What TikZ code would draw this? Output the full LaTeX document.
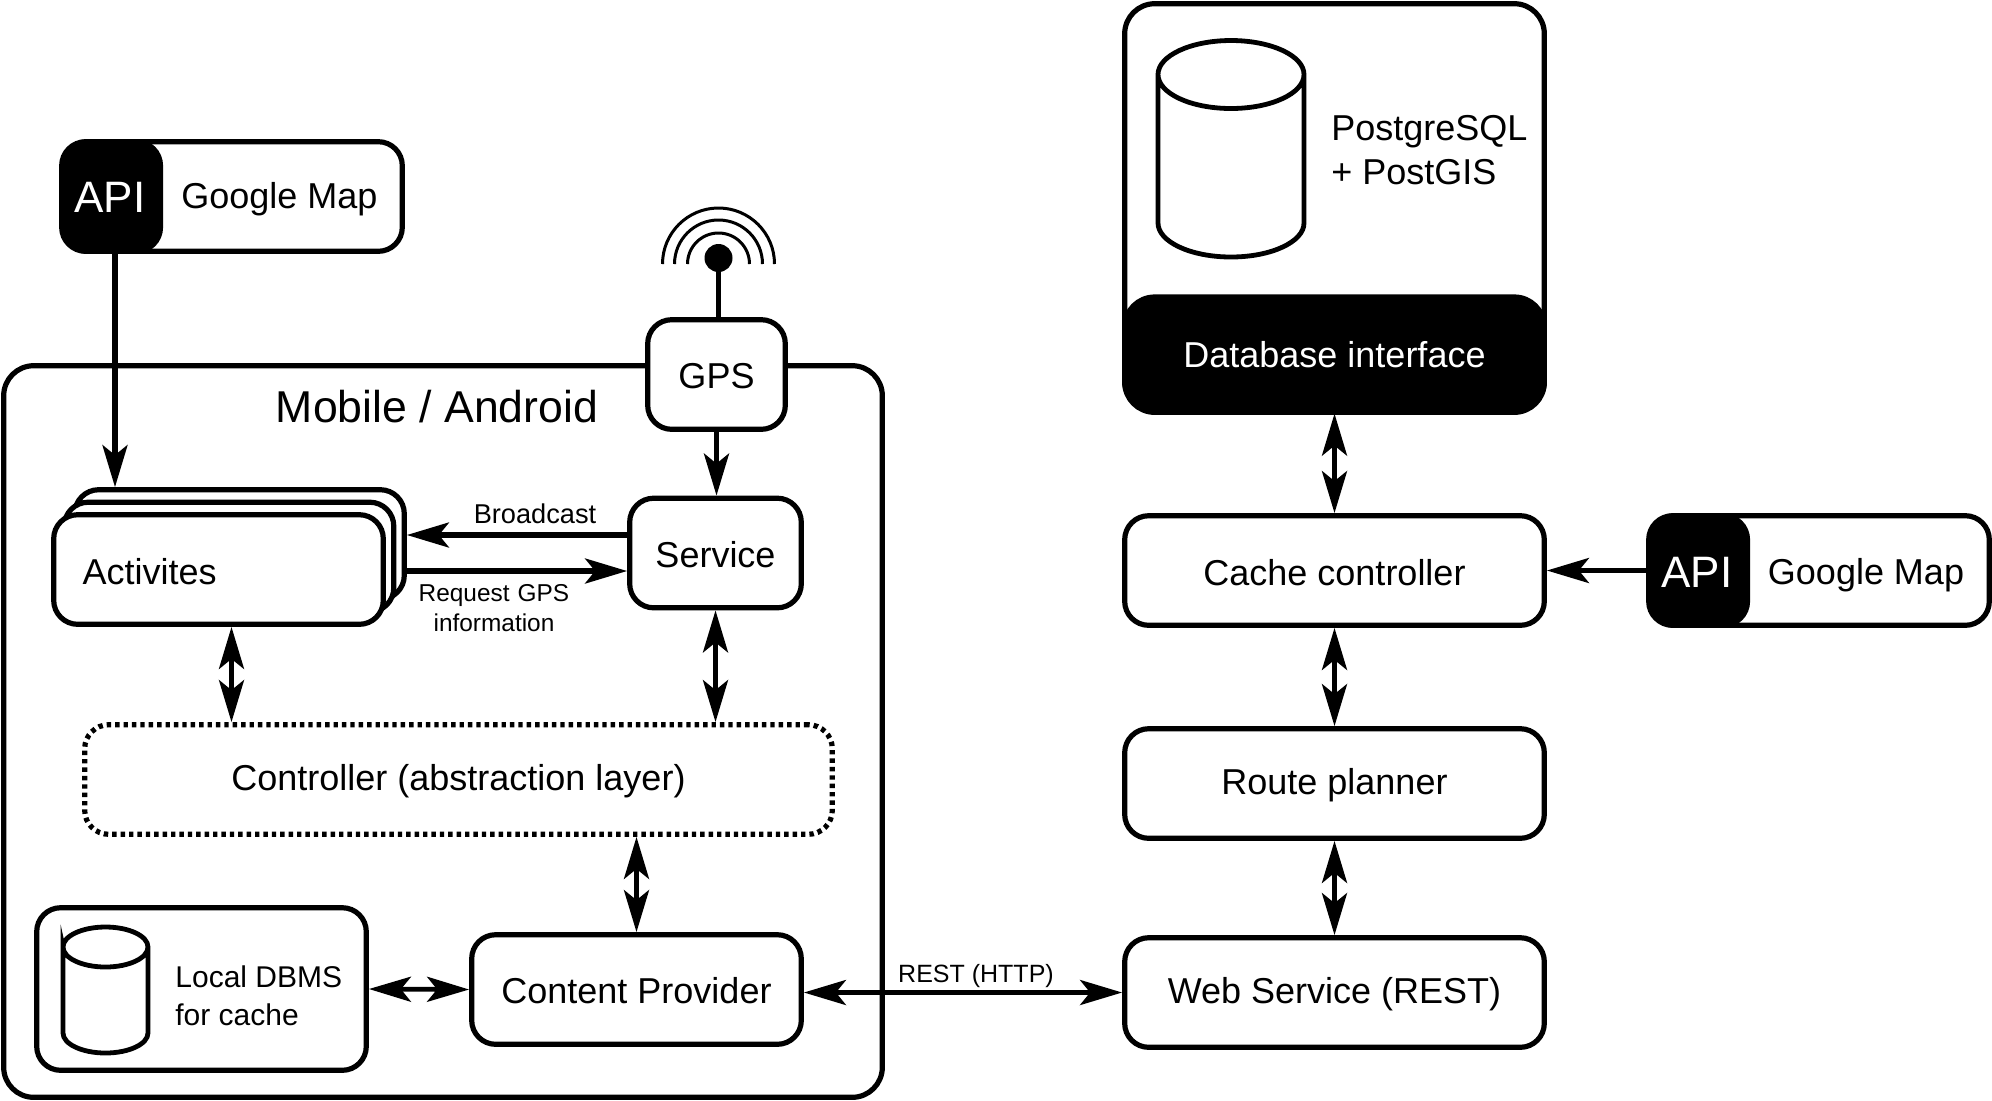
\documentclass[tikz,border=0pt]{standalone}
\usepackage{fontspec}
\setmainfont{Liberation Sans}
\usetikzlibrary{arrows.meta}

\newcommand{\normaltxt}{\fontsize{18}{22}\selectfont}
\newcommand{\dbcylinder}[6]{% left, right, ellipse y top, ellipse y bottom, rx, ry in pt
    \draw[dbline] (#1,#3) arc[start angle=180,end angle=-180,x radius=#5pt,y radius=#6pt]
        -- (#1,#4) arc[start angle=180,end angle=360,x radius=#5pt,y radius=#6pt] -- (#2,#3);
}

\tikzset{
    box/.style={draw,line width=2.6pt,rounded corners=12pt,fill=white,inner sep=0pt,minimum height=54.8pt,text height=16pt,text depth=1.4pt,font=\normaltxt},
    blackbox/.style={box,fill=black,text=white},
    textup/.style={text height=15.5pt,text depth=2pt},
    textupmore/.style={text height=14pt,text depth=3.2pt},
    dbline/.style={line width=2.4pt,fill=white},
    arr/.style={line width=2.6pt,-{Stealth[length=21pt,width=12.5pt,inset=5pt]}},
    biarr/.style={line width=2.4pt,{Stealth[length=21pt,width=12.5pt,inset=5pt]}-{Stealth[length=21pt,width=12.5pt,inset=5pt]}},
    signal/.style={line width=1.5pt},
    txt/.style={inner sep=0pt,font=\normaltxt},
    smalltext/.style={inner sep=0pt,font=\fontsize{13.6}{15}\selectfont,align=center}
}

\begin{document}
\begin{tikzpicture}[x=0.5pt,y=-0.5pt]
    \useasboundingbox (0,0) rectangle (1992,1100);

    \node[box,rounded corners=15pt,minimum width=439.3pt,minimum height=365.8pt] (mobile) at (443,731.5) {};
    \node[txt,font=\fontsize{22.3}{26}\selectfont] (mobiletitle) at (437,407) {Mobile / Android};

    \node[box,minimum width=170.3pt] (gmapleft) at (232,196.5) {};
    \node[blackbox,minimum width=48.5pt] (apileft) at (112,196.5) {};
    \node[txt,text=white,font=\fontsize{22}{26}\selectfont] (apilefttext) at (110,197.5) {API};
    \node[txt] (gmaplefttext) at (279.5,199.5) {Google Map};

    \node[box,minimum width=164.8pt] (actback) at (239.5,544.5) {};
    \node[box,minimum width=164.8pt] (actmid) at (229,557) {};
    \node[box,minimum width=164.8pt,text width=135.8pt,align=left] (act) at (218.5,569.5) {Activites};

    \node[box,textup,minimum width=68.8pt] (gps) at (716.5,374.5) {GPS};
    \node[box,minimum width=85.8pt] (service) at (715.5,553) {Service};
    \node[box,textupmore,dash pattern=on 2.2pt off 2pt,minimum width=373.8pt] (ctrl) at (458.5,779.5) {Controller (abstraction layer)};
    \node[box,textup,minimum width=164.8pt] (content) at (636.5,989.5) {Content Provider};
    \node[box,minimum width=164.8pt,minimum height=81.3pt] (local) at (201.5,989) {};
    \node[txt,anchor=west,align=left,font=\fontsize{15}{19}\selectfont] (localtext) at (175,996) {Local DBMS\\for cache};

    \dbcylinder{63}{148}{947}{1033}{21.25}{10}

    \node[circle,fill=black,inner sep=0pt,minimum size=14pt] (gpsdot) at (718.5,258) {};
    \foreach \rad in {31,44,56}
        {
        \draw[signal] ({718.5-\rad},264) arc[start angle=180,end angle=0,radius=\rad*0.5pt];
        }
    \draw[line width=2.4pt] (gpsdot) -- (gpsdot |- gps.north);

    \node[box,minimum width=209.8pt,minimum height=204.3pt,rounded corners=15pt] (db) at (1334.5,208) {};
    \node[blackbox,textup,minimum width=209.8pt,minimum height=57pt,rounded corners=15pt] (dbface) at (1334.5,354) {Database interface};
    \dbcylinder{1158}{1304}{74.5}{223}{36.5}{17}
    \node[txt,anchor=west,align=left] (dbtext) at (1331,150) {PostgreSQL\\+ PostGIS};

    \node[box,minimum width=209.8pt] (cache) at (1334.5,570.5) {Cache controller};
    \node[box,textupmore,minimum width=209.8pt] (route) at (1334.5,783.5) {Route planner};
    \node[box,textupmore,minimum width=209.8pt] (web) at (1334.5,992.5) {Web Service (REST)};

    \node[box,minimum width=170.3pt] (gmapright) at (1819,570.5) {};
    \node[blackbox,minimum width=48.5pt] (apiright) at (1699,570.5) {};
    \node[txt,text=white,font=\fontsize{22}{26}\selectfont] (apirighttext) at (1697,572.5) {API};
    \node[txt] (gmaprighttext) at (1866,575) {Google Map};

    \draw[arr] ([xshift=1.5pt]apileft.south) -- ([xshift=1.5pt]apileft.south |- actback.north);
    \draw[arr] (gps.south) -- (gps.south |- service.north);
    \draw[arr] ([yshift=9pt]service.west) -- ([yshift=9pt]actback.east |- service.west);
    \draw[arr] ([yshift=-9pt]actback.east |- service.west) -- ([yshift=-9pt]service.west);
    \draw[arr] (apiright.west) -- (cache.east);

    \node[smalltext] (broadcast) at (535,514) {Broadcast};
    \node[smalltext,text width=90pt,font=\fontsize{12.2}{15}\selectfont] (request) at (494,608) {Request GPS\\information};
    \node[smalltext,font=\fontsize{12.5}{15}\selectfont] (rest) at (976,976) {REST (HTTP)};

    \draw[biarr] ([xshift=6.5pt]act.south) -- ([xshift=6.5pt]act.south |- ctrl.north);
    \draw[biarr] (service.south) -- (service.south |- ctrl.north);
    \draw[biarr] (content.north |- ctrl.south) -- (content.north);
    \draw[biarr] (local.east) -- (content.west);
    \draw[biarr] (content.east |- web.west) -- (web.west);
    \foreach \from/\to in {dbface/cache,cache/route,route/web}
        {
        \draw[biarr] (\from.south) -- (\to.north);
        }
\end{tikzpicture}
\end{document}
